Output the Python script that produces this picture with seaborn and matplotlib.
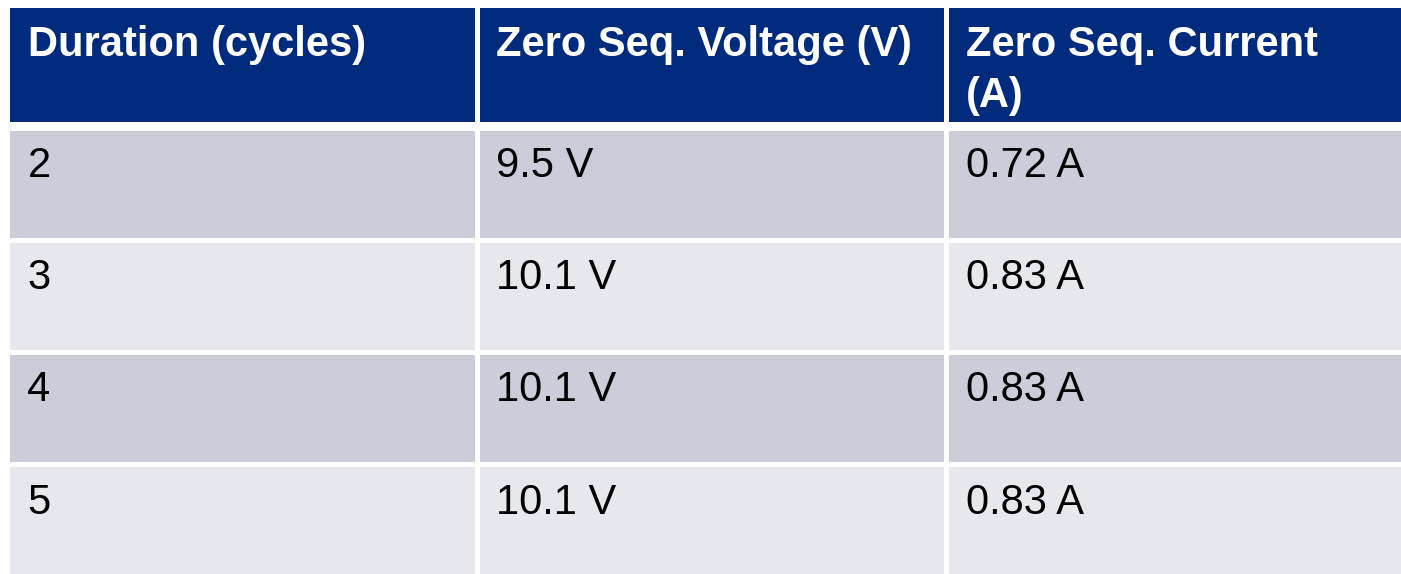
import numpy as np
import pandas as pd
import matplotlib
matplotlib.use("Agg")
import matplotlib.pyplot as plt
from matplotlib.colors import ListedColormap
import seaborn as sns

headers = ["Duration (cycles)", "Zero Seq. Voltage (V)", "Zero Seq. Current\n(A)"]
durations = ["2", "3", "4", "5"]
voltages = ["9.5 V", "10.1 V", "10.1 V", "10.1 V"]
currents = ["0.72 A", "0.83 A", "0.83 A", "0.83 A"]

HEADER_BG = "#002b7c"
ROW_DARK = "#cbced8"
ROW_LIGHT = "#e7e8ed"

df = pd.DataFrame({headers[0]: durations, headers[1]: voltages, headers[2]: currents})

sns.set_theme(style="white")
plt.rcParams["font.family"] = ["Liberation Sans", "DejaVu Sans"]

W, H = 1401, 574
fig = plt.figure(figsize=(W / 100, H / 100), dpi=100)
fig.patch.set_facecolor("white")


def px_axes(left, top, width, height):
    return fig.add_axes([left / W, 1 - (top + height) / H, width / W, height / H])


col_w = 469
row_h = 112
head_h = 119
gap = 2.2  # points, roughly 3 px

# header band
ax_h = px_axes(7.5, 4.5, 3 * col_w, head_h)
sns.heatmap(np.zeros((1, len(headers))), ax=ax_h, cmap=ListedColormap([HEADER_BG]),
            cbar=False, linewidths=gap, linecolor="white",
            xticklabels=False, yticklabels=False)
for j, h in enumerate(headers):
    # wrapped header lines, ~51 px apart
    for k, line in enumerate(h.split("\n")):
        ax_h.text(j + 20 / col_w, (51 + 51 * k) / head_h, line, color="white",
                  fontsize=30, fontweight="bold", ha="left", va="baseline")

# body stripes
stripes = (np.arange(len(df)) % 2)[:, None] * np.ones((1, df.shape[1]))
ax_b = px_axes(7.5, 128.5, 3 * col_w, 4 * row_h)
sns.heatmap(stripes, ax=ax_b, cmap=ListedColormap([ROW_DARK, ROW_LIGHT]),
            vmin=0, vmax=1, cbar=False, linewidths=gap, linecolor="white",
            xticklabels=False, yticklabels=False)
for i, row in enumerate(df.itertuples(index=False)):
    for j, val in enumerate(row):
        ax_b.text(j + 20 / col_w, i + 49 / row_h, val, color="black", fontsize=30,
                  ha="left", va="baseline")

for a in (ax_h, ax_b):
    a.set_xlabel("")
    a.set_ylabel("")
    for s in a.spines.values():
        s.set_visible(False)

fig.savefig("out.png", dpi=100, facecolor="white")
